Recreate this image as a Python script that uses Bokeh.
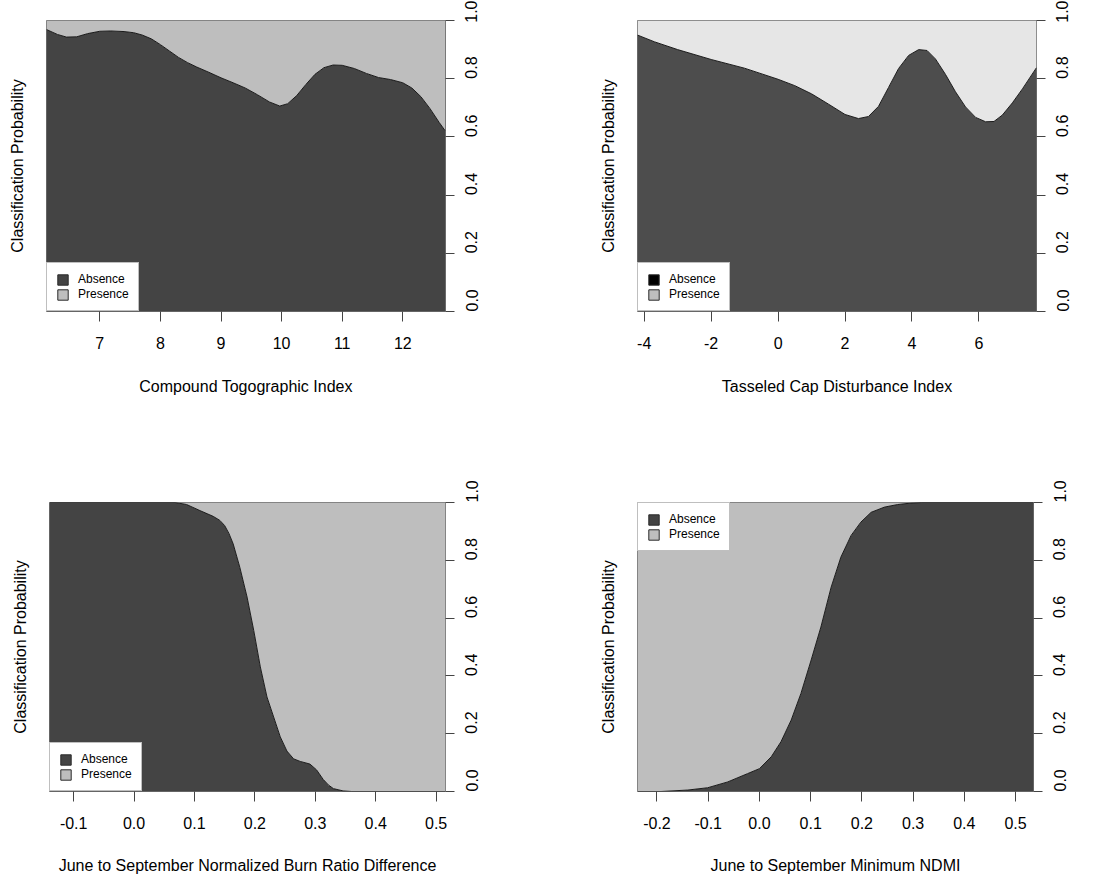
import numpy as np
from bokeh.plotting import figure
from bokeh.models import (Range1d, LinearAxis, FixedTicker, Legend, LegendItem,
                          PrintfTickFormatter, ColumnDataSource)
from bokeh.layouts import column, row
from bokeh.embed import file_html
from bokeh.resources import INLINE

# ---------------- data ----------------
labels = ["Absence", "Presence"]

cti_x = [6.12, 6.30, 6.45, 6.62, 6.80, 7.00, 7.18, 7.40, 7.56, 7.70, 7.85, 8.00, 8.15, 8.30,
         8.45, 8.60, 8.80, 9.00, 9.20, 9.40, 9.60, 9.80, 9.97, 10.10, 10.25, 10.40, 10.55,
         10.70, 10.85, 11.00, 11.20, 11.40, 11.60, 11.80, 12.00, 12.15, 12.30, 12.45, 12.60,
         12.70]
cti_p = [0.969, 0.952, 0.943, 0.944, 0.955, 0.963, 0.964, 0.962, 0.958, 0.950, 0.937, 0.917,
         0.895, 0.873, 0.855, 0.840, 0.822, 0.803, 0.786, 0.768, 0.745, 0.720, 0.706, 0.714,
         0.742, 0.780, 0.815, 0.838, 0.847, 0.846, 0.835, 0.818, 0.804, 0.797, 0.786, 0.768,
         0.738, 0.697, 0.650, 0.621]
cti_ticks = [7, 8, 9, 10, 11, 12]

tcd_x = [-4.2, -3.7, -3.0, -2.0, -1.0, 0.0, 0.5, 1.0, 1.5, 2.0, 2.4, 2.7, 3.0, 3.3, 3.6,
         3.9, 4.2, 4.45, 4.7, 5.0, 5.3, 5.6, 5.9, 6.2, 6.45, 6.7, 7.0, 7.3, 7.72]
tcd_p = [0.950, 0.927, 0.900, 0.866, 0.836, 0.798, 0.776, 0.748, 0.713, 0.677, 0.663, 0.670,
         0.705, 0.770, 0.835, 0.880, 0.900, 0.897, 0.868, 0.815, 0.755, 0.703, 0.667, 0.652,
         0.653, 0.675, 0.717, 0.765, 0.838]
tcd_ticks = [-4, -2, 0, 2, 4, 6]

nbr_x = [-0.14, 0.068, 0.087, 0.109, 0.131, 0.142, 0.150, 0.157, 0.164, 0.175, 0.187,
         0.198, 0.209, 0.220, 0.231, 0.242, 0.253, 0.264, 0.275, 0.291, 0.302, 0.313, 0.322,
         0.330, 0.346, 0.360, 0.5155]
nbr_p = [1.0, 1.0, 0.993, 0.972, 0.952, 0.938, 0.920, 0.893, 0.857, 0.776, 0.673, 0.558,
         0.431, 0.327, 0.258, 0.189, 0.140, 0.113, 0.104, 0.095, 0.075, 0.042, 0.022, 0.010,
         0.002, 0.0, 0.0]
nbr_ticks = [-0.1, 0.0, 0.1, 0.2, 0.3, 0.4, 0.5]

ndmi_x = [-0.238, -0.192, -0.140, -0.101, -0.062, -0.023, 0.0, 0.023, 0.042, 0.062, 0.081,
          0.101, 0.120, 0.140, 0.159, 0.179, 0.198, 0.218, 0.244, 0.270, 0.296, 0.316, 0.535]
ndmi_p = [0.0, 0.0, 0.005, 0.013, 0.033, 0.062, 0.079, 0.12, 0.172, 0.247, 0.339, 0.455,
          0.569, 0.707, 0.811, 0.886, 0.932, 0.966, 0.984, 0.993, 0.998, 1.0, 1.0]
ndmi_ticks = [-0.2, -0.1, 0.0, 0.1, 0.2, 0.3, 0.4, 0.5]

y_ticks = [0.0, 0.2, 0.4, 0.6, 0.8, 1.0]

FONT = "Liberation Sans"
NAN = float("nan")


def panel(xs, ps, xlim, xticks, xfmt, xlabel, fill_cols, leg_cols, leg_loc,
          width, height, bl, br, bt, bb, xlab_standoff):
    p = figure(width=width, height=height, x_range=Range1d(*xlim), y_range=Range1d(0, 1),
               y_axis_location="right", output_backend="svg", toolbar_location=None,
               min_border_left=bl, min_border_right=br, min_border_top=bt,
               min_border_bottom=bb)
    p.grid.visible = False
    p.outline_line_color = "#707070"
    p.outline_line_width = 1
    p.background_fill_color = "white"
    p.border_fill_color = "white"

    src = ColumnDataSource(dict(x=xs, p=ps))
    p.varea(x="x", y1=0, y2="p", source=src, fill_color=fill_cols[0])
    p.varea(x="x", y1="p", y2=1, source=src, fill_color=fill_cols[1])
    p.line(x="x", y="p", source=src, line_color="#1a1a1a", line_width=1)

    # bottom axis
    xa = p.xaxis[0]
    xa.ticker = FixedTicker(ticks=xticks)
    xa.formatter = PrintfTickFormatter(format=xfmt)
    xa.axis_line_color = None
    xa.major_tick_out = 10
    xa.major_tick_in = 0
    xa.major_tick_line_color = "#444444"
    xa.minor_tick_line_color = None
    xa.major_label_text_font = FONT
    xa.major_label_text_font_size = "16px"
    xa.major_label_text_color = "black"
    xa.major_label_standoff = 15
    xa.axis_label = xlabel
    xa.axis_label_text_font = FONT
    xa.axis_label_text_font_size = "16px"
    xa.axis_label_text_font_style = "normal"
    xa.axis_label_text_color = "black"
    xa.axis_label_standoff = xlab_standoff

    # right axis
    ya = p.yaxis[0]
    ya.ticker = FixedTicker(ticks=y_ticks)
    ya.formatter = PrintfTickFormatter(format="%.1f")
    ya.axis_line_color = None
    ya.major_tick_out = 9
    ya.major_tick_in = 0
    ya.major_tick_line_color = "#444444"
    ya.minor_tick_line_color = None
    ya.major_label_text_font = FONT
    ya.major_label_text_font_size = "16px"
    ya.major_label_text_color = "black"
    ya.major_label_orientation = np.pi / 2
    ya.major_label_standoff = 17

    # left axis title only
    la = LinearAxis(ticker=FixedTicker(ticks=[]), axis_line_color=None,
                    major_tick_out=0, major_tick_in=0, minor_tick_out=0, minor_tick_in=0,
                    major_label_standoff=0,
                    axis_label="Classification Probability",
                    axis_label_text_font=FONT, axis_label_text_font_size="16px",
                    axis_label_text_font_style="normal", axis_label_text_color="black",
                    axis_label_standoff=21)
    p.add_layout(la, "left")

    # legend (proxy renderers with NaN geometry: nothing drawn in the plot)
    ra = p.quad(left=[NAN], right=[NAN], top=[NAN], bottom=[NAN], fill_color=leg_cols[0],
                line_color="#2a2a2a", line_width=1)
    rp = p.quad(left=[NAN], right=[NAN], top=[NAN], bottom=[NAN], fill_color=leg_cols[1],
                line_color="#2a2a2a", line_width=1)
    leg = Legend(items=[LegendItem(label=labels[0], renderers=[ra]),
                        LegendItem(label=labels[1], renderers=[rp])],
                 location=leg_loc, margin=0, padding=9, spacing=1,
                 glyph_width=13, glyph_height=13, label_height=14, label_standoff=9,
                 label_text_font=FONT, label_text_font_size="12px",
                 label_text_color="black",
                 border_line_color="#808080", border_line_width=1,
                 background_fill_color="white", background_fill_alpha=1.0)
    p.add_layout(leg)
    return p


p1 = panel(cti_x, cti_p, (6.12, 12.705), cti_ticks, "%d", "Compound Togographic Index",
           ("#444444", "#BEBEBE"), ("#444444", "#BEBEBE"), "bottom_left",
           554, 440, 46, 109, 20, 129, 26)
p2 = panel(tcd_x, tcd_p, (-4.2, 7.72), tcd_ticks, "%d", "Tasseled Cap Disturbance Index",
           ("#4D4D4D", "#E6E6E6"), ("#000000", "#BEBEBE"), "bottom_left",
           550, 440, 83, 68, 20, 129, 26)
p3 = panel(nbr_x, nbr_p, (-0.14, 0.5155), nbr_ticks, "%.1f",
           "June to September Normalized Burn Ratio Difference",
           ("#444444", "#BEBEBE"), ("#444444", "#BEBEBE"), "bottom_left",
           554, 436, 49, 109, 62, 85, 25)
p4 = panel(ndmi_x, ndmi_p, (-0.238, 0.535), ndmi_ticks, "%.1f",
           "June to September Minimum NDMI",
           ("#444444", "#BEBEBE"), ("#444444", "#BEBEBE"), "top_left",
           550, 436, 83, 71, 62, 85, 25)

layout = column(row(p1, p2), row(p3, p4))
open("out.html", "w").write(file_html(layout, INLINE))
